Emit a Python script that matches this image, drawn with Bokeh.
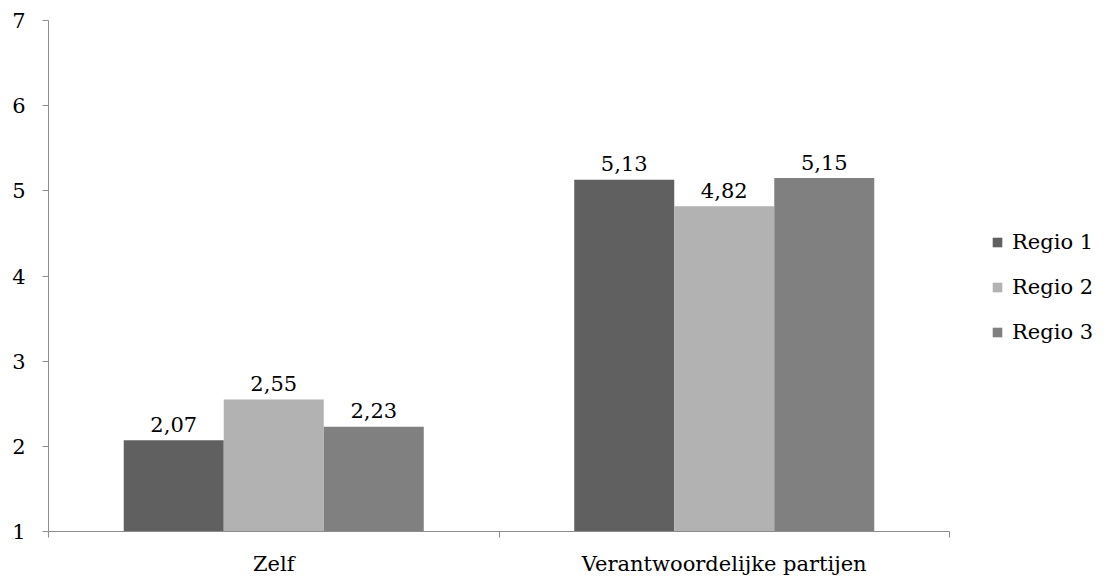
from bokeh.plotting import figure
from bokeh.models import (ColumnDataSource, FixedTicker, Range1d, Legend, LegendItem,
                          LinearAxis)
from bokeh.core.properties import value
from bokeh.embed import file_html
from bokeh.resources import INLINE

categories = ["Zelf", "Verantwoordelijke partijen"]
series_names = ["Regio 1", "Regio 2", "Regio 3"]
regio1 = [2.07, 5.13]
regio2 = [2.55, 4.82]
regio3 = [2.23, 5.15]
colors = ["#606060", "#b2b2b2", "#808080"]
y_ticks = [1, 2, 3, 4, 5, 6, 7]

FONT = "DejaVu Serif"
FS = "21px"

p = figure(width=1101, height=571, output_backend="svg", toolbar_location=None,
           x_range=Range1d(0, len(categories)), y_range=Range1d(1, 7),
           min_border_left=48, min_border_right=152, min_border_top=20, min_border_bottom=40,
           x_axis_type=None, y_axis_type=None)
p.frame_width = 901
p.frame_height = 511
p.grid.visible = False
p.outline_line_color = None
p.background_fill_color = "white"
p.border_fill_color = "white"

# y axis
yax = LinearAxis(ticker=FixedTicker(ticks=y_ticks))
yax.axis_line_color = "#8c8c8c"
yax.major_tick_line_color = "#8c8c8c"
yax.major_tick_in = 0
yax.major_tick_out = 6
yax.minor_tick_line_color = None
yax.major_label_text_font = FONT
yax.major_label_text_font_size = FS
yax.major_label_text_color = "#000000"
yax.major_label_standoff = 17
p.add_layout(yax, "left")

# x axis: labels at category centres, ticks between categories
centers = [i + 0.5 for i in range(len(categories))]
bounds = [float(i) for i in range(len(categories) + 1)]
xax = LinearAxis(ticker=FixedTicker(ticks=centers, minor_ticks=bounds))
xax.major_label_overrides = {c: lab for c, lab in zip(centers, categories)}
xax.axis_line_color = "#8c8c8c"
xax.major_tick_line_color = None
xax.major_tick_in = 0
xax.major_tick_out = 0
xax.minor_tick_line_color = "#8c8c8c"
xax.minor_tick_in = 0
xax.minor_tick_out = 6
xax.major_label_text_font = FONT
xax.major_label_text_font_size = FS
xax.major_label_text_color = "#000000"
xax.major_label_standoff = 14
p.add_layout(xax, "below")

bar_w = 0.222
offsets = [-bar_w, 0.0, bar_w]
all_series = [regio1, regio2, regio3]
items = []
for name, vals, col, off in zip(series_names, all_series, colors, offsets):
    src = ColumnDataSource(dict(x=[c + off for c in centers], top=vals,
                                lab=[f"{v:.2f}".replace(".", ",") for v in vals]))
    r = p.vbar(x="x", top="top", bottom=1, width=bar_w, source=src,
               fill_color=col, line_color=None)
    p.text(x="x", y="top", text="lab", source=src, text_align="center",
           text_baseline="alphabetic", y_offset=-16,
           text_font=value(FONT), text_font_size=FS, text_color="#000000")
    items.append(LegendItem(label=name, renderers=[r]))

legend = Legend(items=items, location=(42, 187))
legend.border_line_color = None
legend.background_fill_alpha = 0
legend.label_text_font = FONT
legend.label_text_font_size = FS
legend.label_text_color = "#000000"
legend.glyph_width = 12
legend.glyph_height = 12
legend.label_standoff = 9
legend.spacing = 21
legend.padding = 0
legend.margin = 0
legend.label_height = 22
p.add_layout(legend, "right")

open("out.html", "w").write(file_html(p, INLINE))
